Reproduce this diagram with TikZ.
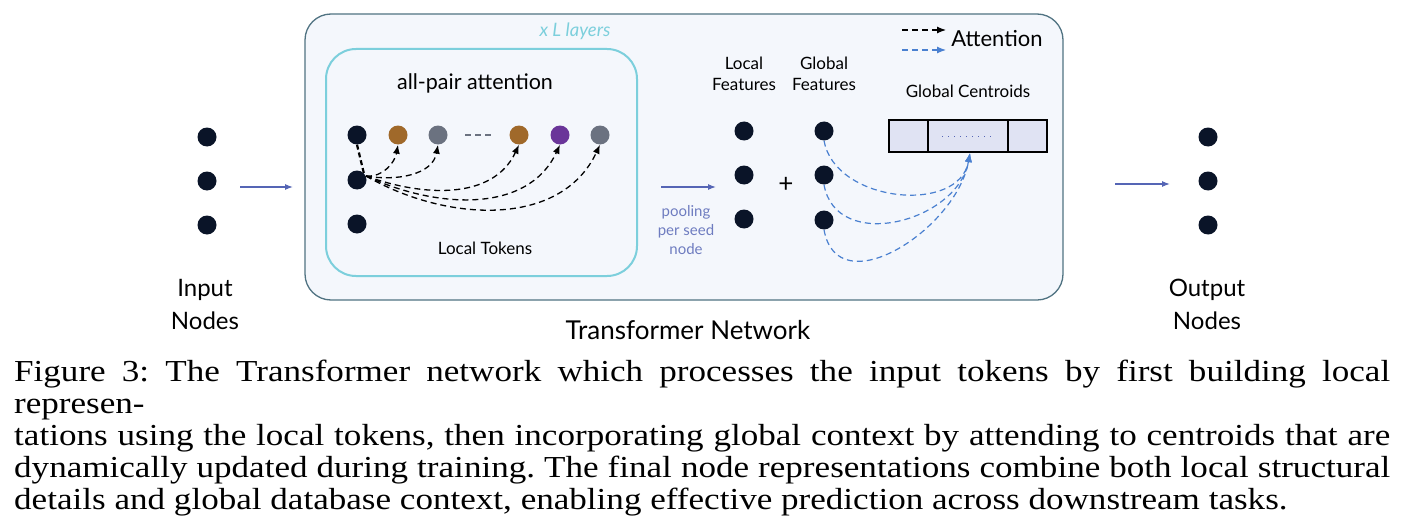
\documentclass[tikz,border=0pt]{standalone}
\usepackage{fontspec}
\setmainfont{Lato}
\newfontfamily\capfont[FakeStretch=1.15]{Liberation Serif}
\usetikzlibrary{arrows.meta}
\definecolor{dk}{HTML}{0A1428}
\definecolor{brn}{HTML}{A0692A}
\definecolor{gry}{HTML}{6B7280}
\definecolor{prp}{HTML}{6A3599}
\definecolor{blu}{HTML}{4A80D0}
\definecolor{pool}{HTML}{5565B5}
\definecolor{cyn}{HTML}{7CCFDC}
\tikzset{
 dot/.style={circle,fill=#1,minimum size=19pt,inner sep=0pt},
 dot/.default=dk,
 lbl/.style={font=\fontsize{17}{21}\selectfont,align=center},
 flow/.style={draw=pool,line width=1.2pt,-{Latex[length=8pt,width=6pt]}},
 att/.style={dashed,line width=1.3pt,dash pattern=on 6pt off 4pt,-{Latex[length=9pt,width=7pt]}},
}
\begin{document}
\begin{tikzpicture}[x=1pt,y=-1pt]
\useasboundingbox (0,0) rectangle (1404,532);
\fill[white] (0,0) rectangle (1404,532);
% outer box
\draw[draw={rgb,255:red,80;green,115;blue,130},fill={rgb,255:red,244;green,247;blue,252},line width=1.3pt,rounded corners=26pt] (305,14) rectangle (1063,300);
\node[text=cyn,font=\fontsize{18.5}{22}\selectfont\itshape] (xl) at (575,31) {x L layers};
\draw[draw=cyn,line width=2pt,rounded corners=30pt] (326,49) rectangle (637,276);
\node[font=\fontsize{21.5}{26}\selectfont] (apa) at (475,83) {all-pair attention};
\node[lbl] (lt) at (485,248) {Local Tokens};
% input
\foreach \y/\n in {137/i1,181/i2,225/i3} \node[dot] (\n) at (207,\y) {};
\node[font=\fontsize{24}{33}\selectfont,align=center] (in) at (205,304) {Input\\Nodes};
\coordinate (a1s) at (240,187); \coordinate (a1e) at (293,187);
\draw[flow] (a1s) -- (a1e);
% tokens
\node[dot] (t0) at (357,135) {};
\node[dot] (t1) at (357,180) {};
\node[dot] (t2) at (357,224) {};
\node[dot=brn] (k1) at (398,135) {};
\node[dot=gry] (k2) at (438,135) {};
\node[dot=brn] (k3) at (519,135) {};
\node[dot=prp] (k4) at (560,135) {};
\node[dot=gry] (k5) at (600,135) {};
\coordinate (d1) at (465,135); \coordinate (d2) at (492,135);
\draw[gry,line width=1.2pt,dash pattern=on 6pt off 4pt] (d1) -- (d2);
\draw[dashed,line width=2.2pt,dash pattern=on 5pt off 3pt] (t0.south) -- (t1.north east);
\coordinate (src) at (366,176);
\draw[att] (src) to[out=-5,in=-100] (k1.south);
\draw[att] (src) to[out=-10,in=-100] (k2.south);
\draw[att] (src) to[out=-20,in=-115] (k3.south);
\draw[att] (src) to[out=-25,in=-115] (k4.south);
\draw[att] (src) to[out=-30,in=-115] (k5.south);
% pooling
\coordinate (p1) at (661,187); \coordinate (p2) at (716,187);
\draw[flow] (p1) -- (p2);
\node[text=pool!85,font=\fontsize{15}{19}\selectfont,align=center] (pl) at (686,230) {pooling\\per seed\\node};
% features
\node[lbl] (lf) at (744,74) {Local\\Features};
\node[lbl] (gf) at (824,74) {Global\\Features};
\foreach \y/\n in {131/l1,175/l2,219/l3} \node[dot] (\n) at (744,\y) {};
\foreach \y/\n in {131/g1,175/g2,220/g3} \node[dot] (\n) at (824,\y) {};
\node[font=\fontsize{26}{26}\selectfont] (plus) at (786,185) {+};
% centroids
\node[lbl] (gc) at (968,91) {Global Centroids};
\draw[fill={rgb,255:red,224;green,227;blue,243},line width=1.3pt] (889,120) rectangle (1047,152);
\draw[line width=1.3pt] (928,120) -- (928,152) (1008,120) -- (1008,152);
\coordinate (c1) at (942,136); \coordinate (c2) at (992,136);
\coordinate (ct) at (970,153);
\draw[pool,line width=1pt,dash pattern=on 1pt off 5pt] (c1) -- (c2);
\draw[att,blu,line width=1.2pt] (g1.south) to[out=-80,in=-100,looseness=1.1] (ct);
\draw[att,blu,line width=1.2pt] (g2.south) to[out=-80,in=-100,looseness=1.2] (ct);
\draw[att,blu,line width=1.2pt] (g3.south) to[out=-80,in=-100,looseness=1.2] (ct);
% legend
\coordinate (lg1) at (902,30); \coordinate (lg2) at (946,30);
\coordinate (lg3) at (902,50); \coordinate (lg4) at (946,50);
\draw[att,line width=1.2pt] (lg1) -- (lg2);
\draw[att,blu,line width=1.2pt] (lg3) -- (lg4);
\node[font=\fontsize{22}{26}\selectfont] (leg) at (997,39) {Attention};
\node[font=\fontsize{26}{30}\selectfont] (tn) at (688,330) {Transformer Network};
% output
\coordinate (o1) at (1115,184); \coordinate (o2) at (1170,184);
\draw[flow] (o1) -- (o2);
\foreach \y/\n in {137/q1,181/q2,225/q3} \node[dot] (\n) at (1208,\y) {};
\node[font=\fontsize{24}{33}\selectfont,align=center] (out) at (1207,304) {Output\\Nodes};
% caption
\node[anchor=north west,inner sep=0pt,text width=1376pt,align=justify,font=\capfont\frenchspacing\fontsize{30.5}{32}\selectfont] (cap) at (14,360) {Figure 3: The Transformer network which processes the input tokens by first building local represen-\linebreak tations using the local tokens, then incorporating global context by attending to centroids that are\linebreak dynamically updated during training. The final node representations combine both local structural\linebreak details and global database context, enabling effective prediction across downstream tasks.};
\end{tikzpicture}
\end{document}
